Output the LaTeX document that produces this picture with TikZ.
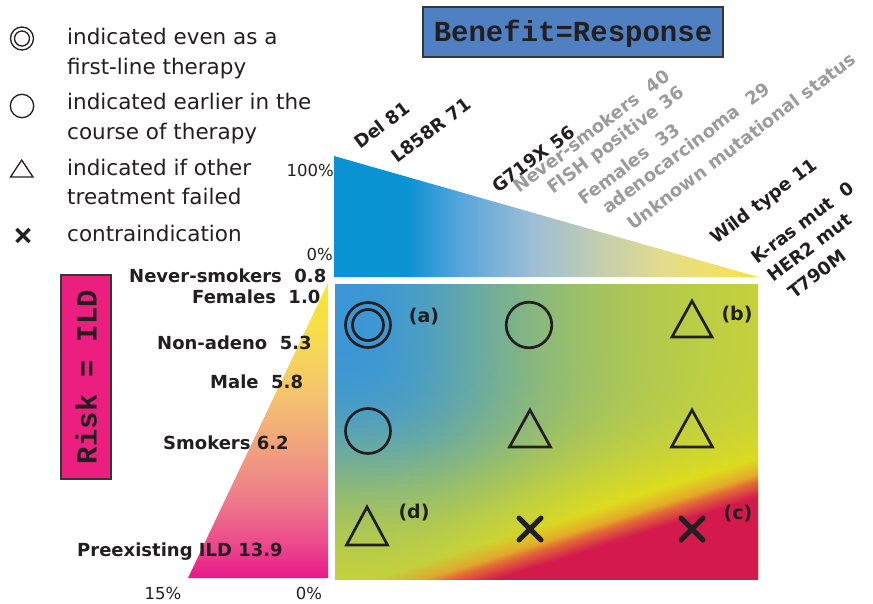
\documentclass[tikz,border=0pt]{standalone}
\usepackage{fontspec}
\setmainfont{DejaVu Sans}
\newfontfamily\monofont{Liberation Mono}
\usetikzlibrary{fadings}
\definecolor{ink}{HTML}{231F20}
\definecolor{greylbl}{HTML}{9B9B9B}
\definecolor{boxblue}{HTML}{4F80C2}
\definecolor{boxpink}{HTML}{EC1F80}
\definecolor{bA}{HTML}{0A93D2}
\definecolor{bB}{HTML}{5AA6DB}
\definecolor{bC}{HTML}{9BBDD7}
\definecolor{bD}{HTML}{C2CDB0}
\definecolor{bE}{HTML}{E3DC8C}
\definecolor{bF}{HTML}{F3E25C}
\definecolor{bG}{HTML}{F5E02A}
\definecolor{rA}{HTML}{E8198B}
\definecolor{rB}{HTML}{EC4A8C}
\definecolor{rC}{HTML}{EE7A8A}
\definecolor{rD}{HTML}{F1A07E}
\definecolor{rE}{HTML}{F4C070}
\definecolor{rF}{HTML}{F6D858}
\definecolor{rG}{HTML}{F8E82A}
\definecolor{crim}{HTML}{D41A4C}
\definecolor{orng}{HTML}{E8912E}
\pgfdeclarehorizontalshading{benshade}{100bp}{color(0bp)=(bA); color(33.6bp)=(bA); color(40.2bp)=(bB); color(48.1bp)=(bC); color(56bp)=(bD); color(63.8bp)=(bE); color(71.7bp)=(bF); color(75bp)=(bG); color(100bp)=(bG)}
\pgfdeclareverticalshading{riskshade}{100bp}{color(0bp)=(rA); color(25bp)=(rA); color(31bp)=(rB); color(38bp)=(rC); color(47bp)=(rD); color(55bp)=(rE); color(64bp)=(rF); color(75bp)=(rG); color(100bp)=(rG)}
\pgfdeclareverticalshading{redfadeshade}{100bp}{color(0bp)=(white); color(36.4bp)=(white); color(38.7bp)=(black); color(100bp)=(black)}
\pgfdeclareverticalshading{orngfadeshade}{100bp}{color(0bp)=(white); color(37.9bp)=(white); color(40.4bp)=(black); color(100bp)=(black)}
\pgfdeclarefading{redfade}{\pgfuseshading{redfadeshade}}
\pgfdeclarefading{orngfade}{\pgfuseshading{orngfadeshade}}
\begin{document}
\begin{tikzpicture}[x=1pt,y=-1pt,
  lbl/.style={font=\bfseries\fontsize{18}{21}\selectfont, text=ink, inner sep=0pt},
  rlbl/.style={lbl, anchor=base west, rotate=37},
  glbl/.style={rlbl, text=greylbl},
  leg/.style={font=\fontsize{21.5}{26}\selectfont, text=ink, inner sep=0pt, anchor=base west},
  pct/.style={font=\fontsize{16.5}{20}\selectfont, text=ink, inner sep=0pt},
  sym/.style={draw=ink, line width=2.7pt, line join=miter},
  legsym/.style={draw=ink, line width=1.3pt},
  crossline/.style={draw=ink, line width=5pt, line cap=round},
  tagl/.style={font=\bfseries\fontsize{19}{22}\selectfont, text=ink, inner sep=0pt}]
\useasboundingbox (0,0) rectangle (873,604);

% legend
\draw[legsym] (22,38.5) circle (11.5);
\draw[legsym] (22,38.5) circle (7.5);
\node[leg] (l1) at (67,45) {indicated even as a};
\node[leg] (l2) at (67,75) {first-line therapy};
\draw[legsym] (22,106) circle (11.7);
\node[leg] (l3) at (67,110) {indicated earlier in the};
\node[leg] (l4) at (67,140) {course of therapy};
\draw[legsym, line join=miter] (21.7,160) -- (33,177) -- (10.5,177) -- cycle;
\node[leg] (l5) at (67,176) {indicated if other};
\node[leg] (l6) at (67,205) {treatment failed};
\draw[ink, line width=3.5pt] (16.5,229) -- (29.5,242) (16.5,242) -- (29.5,229);
\node[leg] (l7) at (67,242) {contraindication};

% Benefit box
\node[draw=ink!90, line width=2.5pt, fill=boxblue, minimum width=300pt, minimum height=50pt, inner sep=0pt] (ben) at (573,32) {};
\node[font=\monofont\bfseries\fontsize{29}{30}\selectfont, text=ink, anchor=base, inner sep=0pt] (bent) at (573,41.5) {Benefit=Response};

% Risk box
\node[draw=ink!90, line width=2.5pt, fill=boxpink, minimum width=50pt, minimum height=204pt, inner sep=0pt] (risk) at (86,377) {};
\node[font=\monofont\bfseries\fontsize{29}{30}\selectfont, text=ink, anchor=base, rotate=90, inner sep=0pt] (riskt) at (96.5,377) {Risk = ILD};

% benefit triangle
\shade[shading=benshade] (334,156) -- (334,277) -- (758,277) -- cycle;
\node[pct, anchor=base east] (p100) at (334,177) {100\%};
\node[pct, anchor=base east] (p0a) at (333,261) {0\%};

% main field: blue/yellow computed on a fine grid, then orange and red layers
\begin{scope}
\clip (335,284) rectangle (758,579);
\foreach \i in {0,...,105}{%
  \edef\axv{\fpeval{1/(1+((4*\i+3)/210)^2.4)}}%
  \edef\pxv{\fpeval{(1-\axv)^1.5}}%
  \foreach \j in {0,...,73}{%
    \edef\ayv{\fpeval{1/(1+((4*\j+3)/205)^4.5)}}%
    \edef\alp{\fpeval{max(0,1-(\pxv+(1-\ayv)^1.5)^(2/3))}}%
    \edef\cR{\fpeval{round((222-164*\alp)/255,4)}}%
    \edef\cG{\fpeval{round((220-70*\alp)/255,4)}}%
    \edef\cB{\fpeval{round((30+184*\alp)/255,4)}}%
    \definecolor{cellc}{rgb}{\cR,\cG,\cB}%
    \fill[cellc] ({335+4*\i-0.25},{284+4*\j-0.25}) rectangle ++(4.5,4.5);
  }%
}
\fill[orng, path fading=orngfade, fading angle=17.5] (316.5,201.5) rectangle (776.5,661.5);
\fill[crim, path fading=redfade, fading angle=17.5] (316.5,201.5) rectangle (776.5,661.5);
\end{scope}

% risk triangle
\shade[shading=riskshade] (328,283) -- (328,578) -- (188,578) -- cycle;
\node[pct, anchor=base] (p15) at (163,599) {15\%};
\node[pct, anchor=base] (p0b) at (309,599) {0\%};

% risk labels
\node[lbl, anchor=base west] (r1) at (129,282) {Never-smokers\ \ 0.8};
\node[lbl, anchor=base west] (r2) at (192,303) {Females\ \ 1.0};
\node[lbl, anchor=base west] (r3) at (157,349) {Non-adeno\ \ 5.3};
\node[lbl, anchor=base west] (r4) at (210,388) {Male\ \ 5.8};
\node[lbl, anchor=base west] (r5) at (163,449) {Smokers 6.2};
\node[lbl, anchor=base west] (r6) at (77,556) {Preexisting ILD 13.9};

% benefit labels
\node[rlbl] (b1) at (360,150) {Del 81};
\node[rlbl] (b2) at (397,164) {L858R 71};
\node[rlbl] (b3) at (498,194) {G719X 56};
\node[glbl] (b4) at (519,194) {Never-smokers\ \ 40};
\node[glbl] (b5) at (553,195) {FISH positive 36};
\node[glbl] (b6) at (584,206) {Females\ \ 33};
\node[glbl] (b7) at (608,215) {adenocarcinoma\ \ 29};
\node[glbl] (b8) at (633,231) {Unknown mutational status};
\node[rlbl] (b9) at (716,245) {Wild type 11};
\node[rlbl] (b10) at (757,265) {K-ras mut\ \ 0};
\node[rlbl] (b11) at (773,283) {HER2 mut};
\node[rlbl] (b12) at (794,300) {T790M};

% markers row 1
\draw[sym] (368,325) circle (22.5);
\draw[sym] (368,325) circle (15.5);
\draw[sym] (529,325) circle (22.8);
\draw[sym] (692,301) -- (712,337) -- (672,337) -- cycle;
% row 2
\draw[sym] (368,431) circle (22.5);
\draw[sym] (530,410) -- (550.5,447) -- (509.5,447) -- cycle;
\draw[sym] (692,410) -- (712.5,447) -- (671.5,447) -- cycle;
% row 3
\draw[sym] (367,507) -- (387.5,545) -- (346.5,545) -- cycle;
\draw[crossline] (519,518) -- (541,540) (519,540) -- (541,518);
\draw[crossline] (681,518) -- (703,540) (681,540) -- (703,518);

% tags
\node[tagl] (ta) at (424,317) {(a)};
\node[tagl] (tb) at (737,315) {(b)};
\node[tagl] (tc) at (738,514) {(c)};
\node[tagl] (td) at (414,513) {(d)};
\end{tikzpicture}
\end{document}
